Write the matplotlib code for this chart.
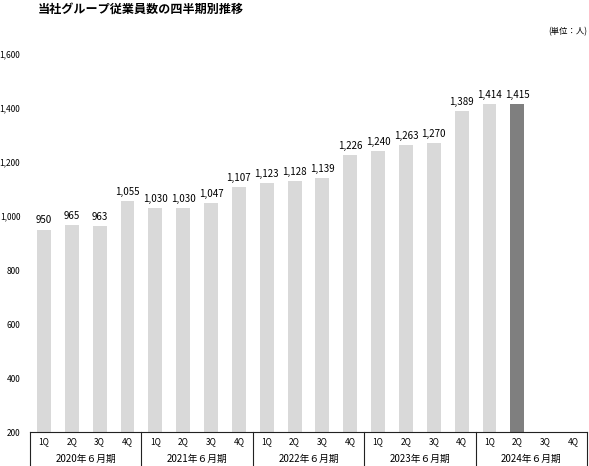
import matplotlib
matplotlib.use("Agg")
import matplotlib.pyplot as plt
from matplotlib.lines import Line2D

plt.rcParams['font.family'] = ['Noto Sans CJK JP', 'DejaVu Sans']

title = "当社グループ従業員数の四半期別推移"
unit = "(単位：人)"
years = ["2020年６月期", "2021年６月期", "2022年６月期", "2023年６月期", "2024年６月期"]
quarters = ["1Q", "2Q", "3Q", "4Q"]
values = [950, 965, 963, 1055,
          1030, 1030, 1047, 1107,
          1123, 1128, 1139, 1226,
          1240, 1263, 1270, 1389,
          1414, 1415]
yticks = [200, 400, 600, 800, 1000, 1200, 1400, 1600]

W, H = 589, 466
fig = plt.figure(figsize=(W / 100, H / 100), dpi=100)
ax_left, ax_right = 30 / W, 587 / W
ax_bottom, ax_top = (H - 432) / H, (H - 54) / H
ax = fig.add_axes([ax_left, ax_bottom, ax_right - ax_left, ax_top - ax_bottom])

n_slots = len(years) * len(quarters)
xs = list(range(len(values)))
colors = ["#d9d9d9"] * (len(values) - 1) + ["#7f7f7f"]
bars = ax.bar(xs, [v - 200 for v in values], bottom=200, width=0.5, color=colors, zorder=2)
for x, v in zip(xs, values):
    ax.annotate(f"{v:,}", (x, v), xytext=(0, 3), textcoords="offset points",
                ha="center", va="bottom", fontsize=7, color="#000000")

ax.set_xlim(-0.5, n_slots - 0.5)
ax.set_ylim(200, 1600)
ax.set_yticks(yticks)
ax.set_yticklabels([f"{t:,}" for t in yticks], fontsize=6)
ax.tick_params(axis="y", length=0, pad=7)
ax.set_xticks([])
for s in ["top", "right", "left"]:
    ax.spines[s].set_visible(False)
ax.spines["bottom"].set_color("#222222")
ax.spines["bottom"].set_linewidth(0.8)

tr = ax.get_xaxis_transform()
axes_h = 432 - 54
y_bot = -(466 - 432) / axes_h
y_q = -(442 - 432) / axes_h
y_y = -(459 - 432) / axes_h
for i in range(n_slots):
    ax.text(i, y_q, quarters[i % 4], transform=tr, ha="center", va="center", fontsize=6)
for j, yr in enumerate(years):
    ax.text(j * 4 + 1.5, y_y, yr, transform=tr, ha="center", va="center", fontsize=7)
for j in range(len(years) + 1):
    xb = j * 4 - 0.5
    ax.add_line(Line2D([xb, xb], [0, y_bot], transform=tr, color="#222222",
                       linewidth=0.8, clip_on=False))

fig.text(38 / W, 1 - 9 / H, title, ha="left", va="center", fontsize=8.7, fontweight="bold")
fig.text(587 / W, 1 - 32 / H, unit, ha="right", va="center", fontsize=6)

fig.savefig("out.png", dpi=100)
